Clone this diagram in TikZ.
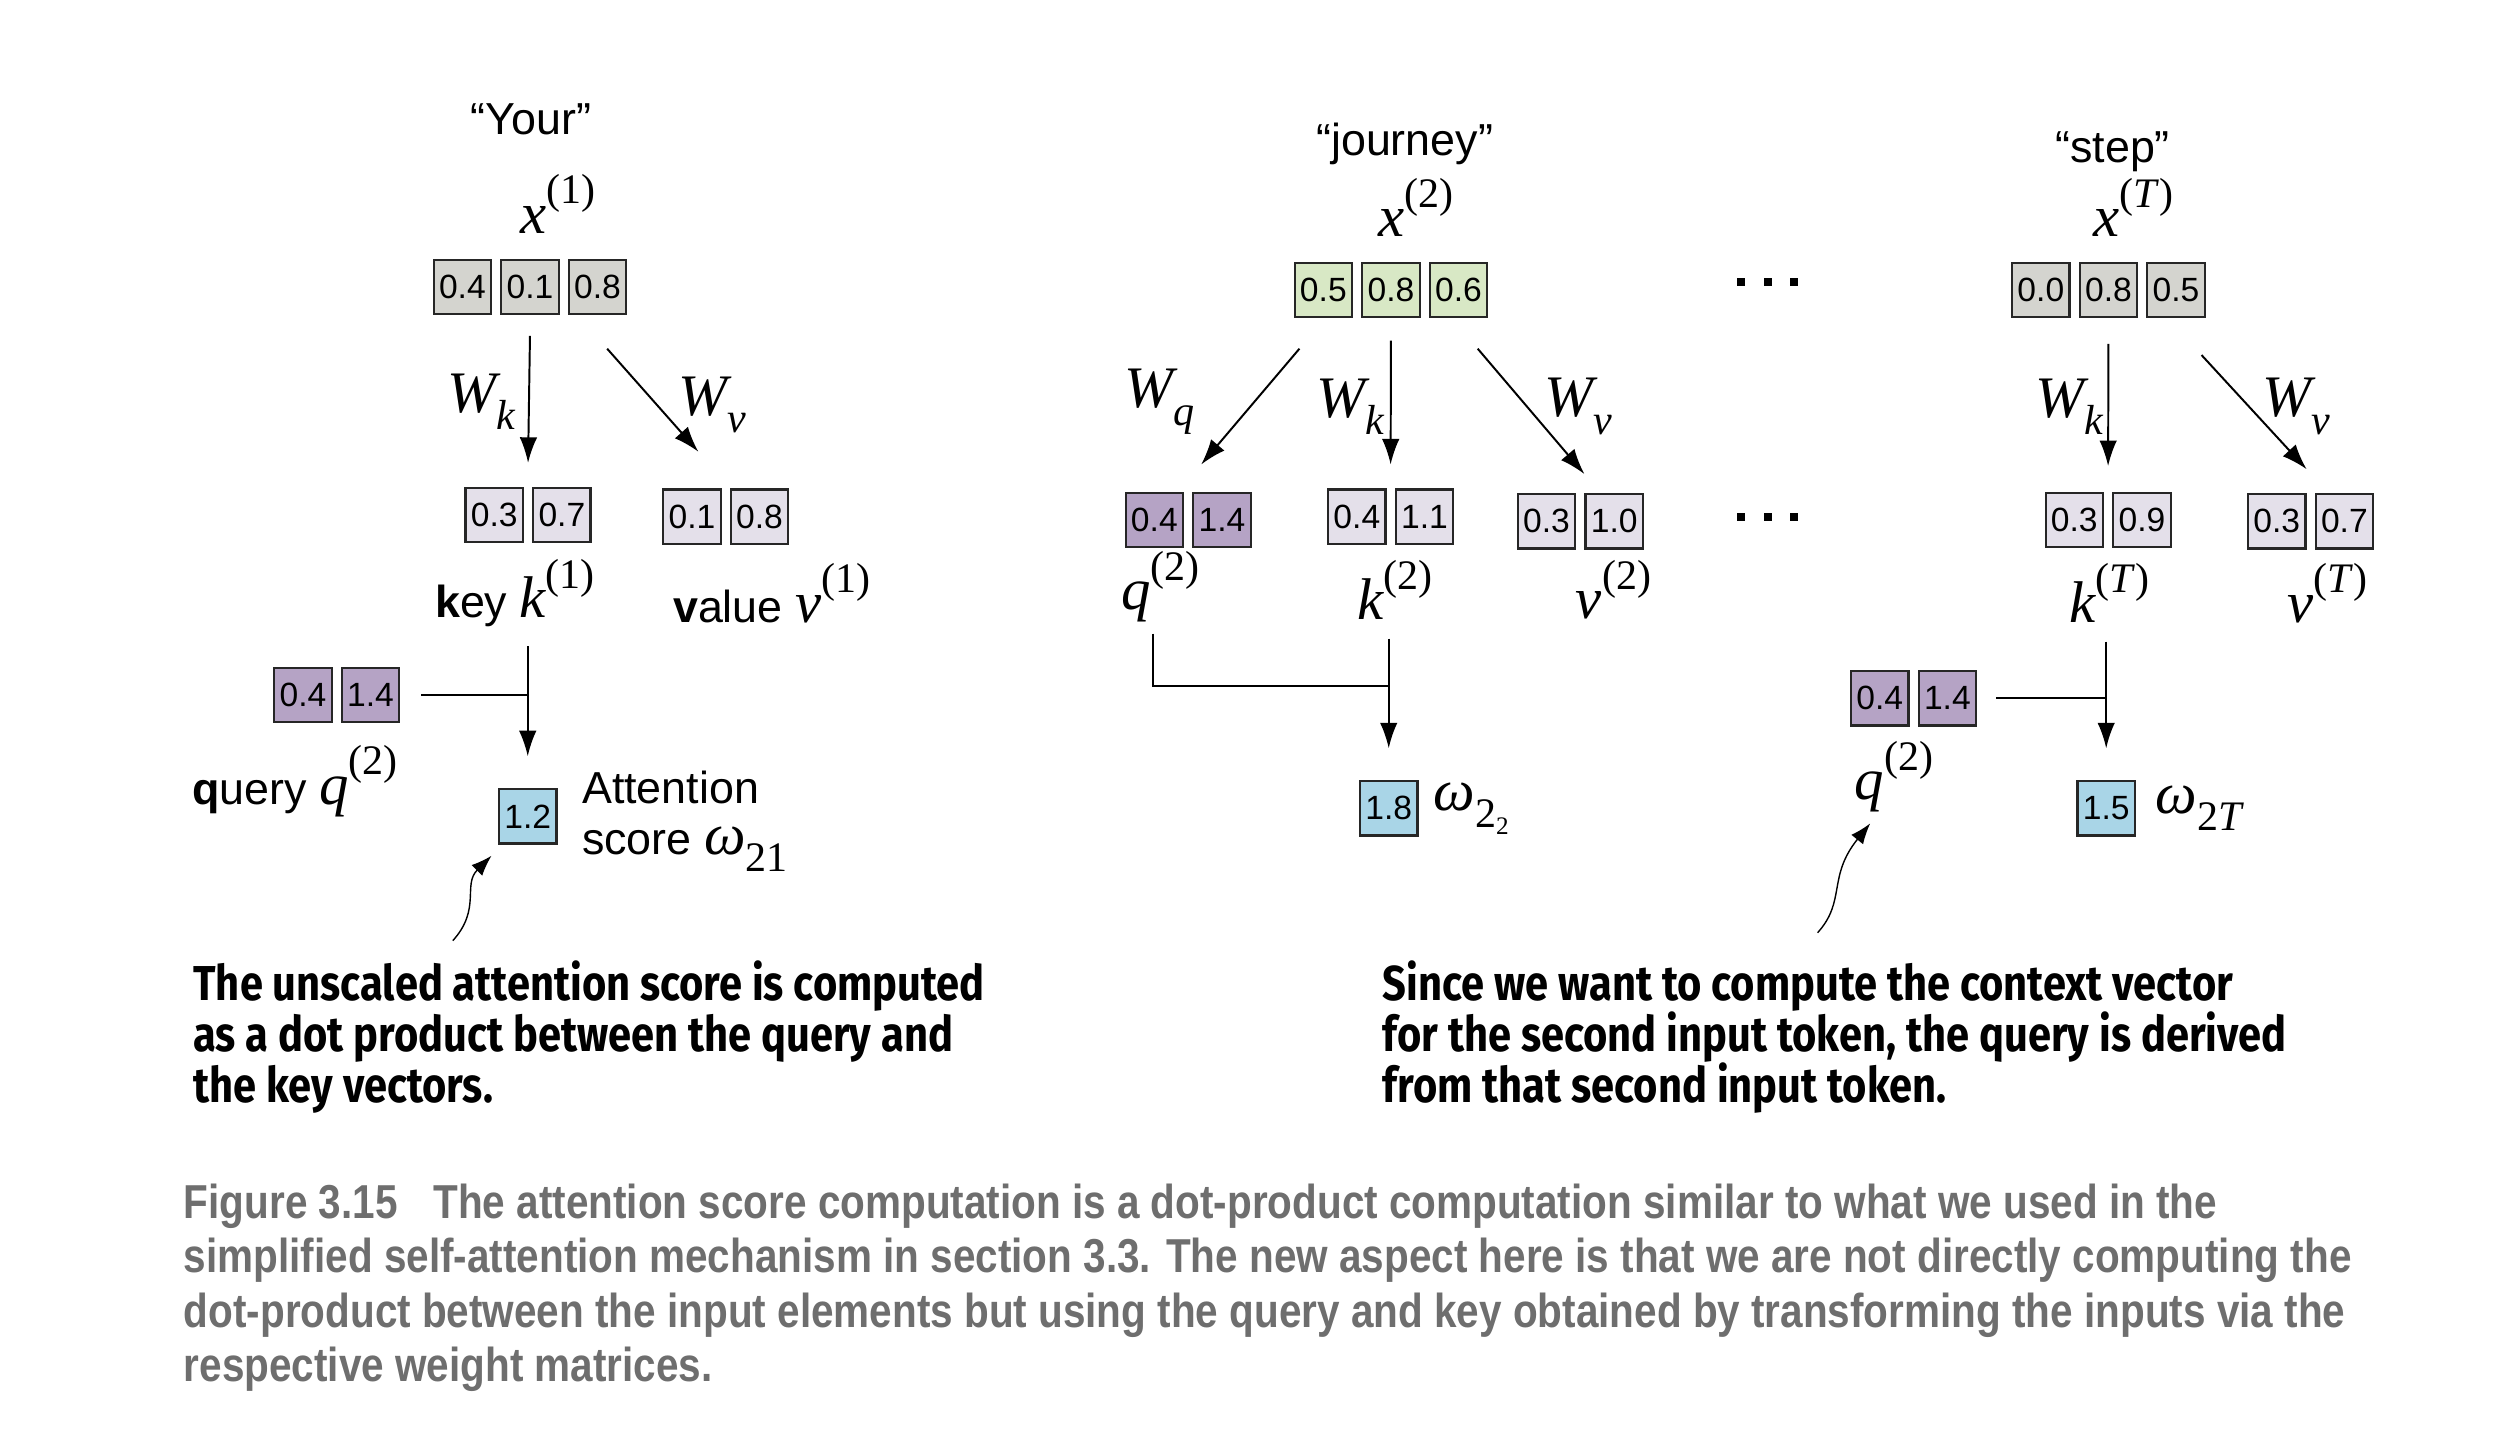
\documentclass[tikz,border=0pt]{standalone}
\usepackage{fontspec}
\setmainfont{Liberation Sans}
\newfontfamily\tms{Liberation Serif}
\newfontfamily\capfont[FakeStretch=0.85]{Liberation Sans}
\newfontfamily\notefont[FakeStretch=0.85]{Fira Sans}
\usetikzlibrary{arrows.meta, positioning}

\definecolor{cellgrey}{HTML}{D4D4CF}
\definecolor{celllilac}{HTML}{E4E0EA}
\definecolor{cellpurple}{HTML}{B5A3C5}
\definecolor{cellgreen}{HTML}{D8E8C5}
\definecolor{cellblue}{HTML}{A9D5E7}
\definecolor{captiongrey}{HTML}{6E6E6E}

\newcommand{\mi}[1]{{\tms\itshape #1}}
\newcommand{\supx}[1]{\raisebox{0.5em}{\tms\upshape\fontsize{15}{15}\selectfont #1}}
\newcommand{\subx}[1]{\raisebox{-0.3em}{\tms\upshape\fontsize{15}{15}\selectfont #1}}

\begin{document}
\begin{tikzpicture}[
x=0.02cm, y=-0.02cm,
cell/.style={
draw=black!85,
line width=0.8pt,
minimum width=0.72cm,
minimum height=0.68cm,
inner sep=0pt,
font=\fontsize{12}{12}\selectfont
},
greycell/.style={cell, fill=cellgrey},
lilaccell/.style={cell, fill=celllilac},
purplecell/.style={cell, fill=cellpurple},
greencell/.style={cell, fill=cellgreen},
bluecell/.style={cell, fill=cellblue},
label/.style={font=\fontsize{16}{18.2}\selectfont, inner sep=1pt},
sym/.style={font=\fontsize{21}{22}\selectfont\tms\itshape, inner sep=1pt},
dot/.style={fill=black, minimum size=0.1cm, inner sep=0pt},
note/.style={font=\notefont\bfseries\fontsize{17.5}{18.2}\selectfont, align=left, inner sep=0pt},
arrow/.style={-{Latex[length=3.2mm,width=2.2mm]}, line width=0.7pt},
curl/.style={-{Latex[length=2.6mm,width=1.9mm]}, line width=0.5pt},
link/.style={line width=0.7pt}
]
\useasboundingbox (0,0) rectangle (1568,898);

% token "Your"
\node[label] (your) at (333,75) {“Your”};
\node[sym] (x1) at (350,128) {x\supx{(1)}};
\node[greycell] (x1a) at (290,180) {0.4};
\node[greycell, right=1mm of x1a] (x1b) {0.1};
\node[greycell, right=1mm of x1b] (x1c) {0.8};

\node[lilaccell] (k1a) at (310,323) {0.3};
\node[lilaccell, right=1mm of k1a] (k1b) {0.7};
\node[lilaccell] (v1a) at (434,324) {0.1};
\node[lilaccell, right=1mm of v1a] (v1b) {0.8};

\node[sym] (wk1) at (302,252) {W\subx{\itshape k}};
\node[sym] (wv1) at (447,254) {W\subx{\itshape v}};

\node[label] (k1lab) at (323,372) {\textbf{k}ey {\fontsize{21}{21}\selectfont\mi{k}\supx{(1)}}};
\node[label] (v1lab) at (484,372) {\textbf{v}alue {\fontsize{21}{21}\selectfont\mi{v}\supx{(1)}}};

\node[purplecell] (q1a) at (190,436) {0.4};
\node[purplecell, right=1mm of q1a] (q1b) {1.4};
\node[label] (q1lab) at (185,490) {\textbf{q}uery {\fontsize{21}{21}\selectfont\mi{q}\supx{(2)}}};

\node[bluecell] (s1) at (331,512) {1.2};
\node[label, align=left, anchor=west] (att1) at (363,515) {Attention\\score {\fontsize{21}{21}\selectfont\mi{ω}\subx{21}}};

\draw[arrow] ([yshift=-0.26cm]x1b.south) -- ([xshift=0.05cm,yshift=0.3cm]k1a.north east);
\draw[arrow] ([xshift=0.12cm,yshift=-0.42cm]x1c.south) -- ([xshift=0.08cm,yshift=0.46cm]v1a.north);

\coordinate (j1) at (s1.north |- q1b.east);
\coordinate (t1) at (s1.north |- k1lab.south);
\draw[link] ([xshift=0.26cm]q1b.east) -- (j1);
\draw[arrow] ([yshift=-0.2cm]t1) -- ([yshift=0.4cm]s1.north);

% token "journey"
\node[label] (journey) at (881,90) {“journey”};
\node[sym] (x2) at (888,130) {x\supx{(2)}};
\node[greencell] (x2a) at (830,182) {0.5};
\node[greencell, right=1mm of x2a] (x2b) {0.8};
\node[greencell, right=1mm of x2b] (x2c) {0.6};

\node[purplecell] (q2a) at (724,326) {0.4};
\node[purplecell, right=1mm of q2a] (q2b) {1.4};
\node[lilaccell] (k2a) at (851,324) {0.4};
\node[lilaccell, right=1mm of k2a] (k2b) {1.1};
\node[lilaccell] (v2a) at (970,327) {0.3};
\node[lilaccell, right=1mm of v2a] (v2b) {1.0};

\node[sym] (wq2) at (727,252) {W\subx{\itshape q}};
\node[sym] (wk2) at (847,255) {W\subx{\itshape k}};
\node[sym] (wv2) at (990,255) {W\subx{\itshape v}};

\draw[arrow] ([xshift=-0.3cm,yshift=-0.38cm]x2a.south) -- ([xshift=-0.26cm,yshift=0.34cm]q2b.north);
\draw[arrow] ([yshift=-0.28cm]x2b.south) -- ([xshift=0.05cm,yshift=0.3cm]k2a.north east);
\draw[arrow] ([xshift=0.24cm,yshift=-0.38cm]x2c.south) -- ([xshift=0.1cm,yshift=0.24cm]v2a.north east);

\node[sym] (q2lab) at (728,368) {q\supx{(2)}};
\node[sym] (k2lab) at (875,370) {k\supx{(2)}};
\node[sym] (v2lab) at (1012,370) {v\supx{(2)}};

\node[bluecell] (s2) at (871,507) {1.8};
\node[sym, anchor=west] (w22) at (897,507) {ω\subx{2\raisebox{-0.15em}{\fontsize{9}{9}\selectfont 2}}};

\coordinate (j2) at (s2.north |- 0,430);
\coordinate (t2) at (s2.north |- k2lab.south);
\draw[link] ([xshift=-0.1cm,yshift=-0.1cm]q2lab.south) |- (j2);
\draw[arrow] ([yshift=-0.2cm]t2) -- ([yshift=0.4cm]s2.north);

% dots
\node[dot] (d1a) at (1092,177) {};
\node[dot, right=0.22cm of d1a] (d1b) {};
\node[dot, right=0.22cm of d1b] (d1c) {};
\node[dot] (d2a) at (1092,324) {};
\node[dot, right=0.22cm of d2a] (d2b) {};
\node[dot, right=0.22cm of d2b] (d2c) {};

% token "step"
\node[label] (stepw) at (1325,95) {“step”};
\node[sym] (xT) at (1338,130) {x\supx{(\itshape T\/\upshape)}};
\node[greycell] (xTa) at (1280,182) {0.0};
\node[greycell, right=1mm of xTa] (xTb) {0.8};
\node[greycell, right=1mm of xTb] (xTc) {0.5};

\node[lilaccell] (kTa) at (1301,326) {0.3};
\node[lilaccell, right=1mm of kTa] (kTb) {0.9};
\node[lilaccell] (vTa) at (1428,327) {0.3};
\node[lilaccell, right=1mm of vTa] (vTb) {0.7};

\node[sym] (wkT) at (1298,255) {W\subx{\itshape k}};
\node[sym] (wvT) at (1440,255) {W\subx{\itshape v}};

\draw[arrow] ([yshift=-0.32cm]xTb.south) -- ([xshift=0.05cm,yshift=0.32cm]kTa.north east);
\draw[arrow] ([xshift=0.32cm,yshift=-0.46cm]xTc.south) -- ([yshift=0.3cm]vTa.north east);

\node[sym] (kTlab) at (1323,372) {k\supx{(\itshape T\/\upshape)}};
\node[sym] (vTlab) at (1460,372) {v\supx{(\itshape T\/\upshape)}};

\node[purplecell] (qTa) at (1179,438) {0.4};
\node[purplecell, right=1mm of qTa] (qTb) {1.4};
\node[sym] (qTlab) at (1188,487) {q\supx{(2)}};

\node[bluecell] (sT) at (1321,507) {1.5};
\node[sym, anchor=west] (w2T) at (1350,507) {ω\subx{2\itshape T}};

\coordinate (j3) at (sT.north |- qTb.east);
\coordinate (t3) at (sT.north |- kTlab.south);
\draw[link] ([xshift=0.24cm]qTb.east) -- (j3);
\draw[arrow] ([yshift=-0.2cm]t3) -- ([yshift=0.4cm]sT.north);

% notes
\node[note, anchor=north west] (note1) at (121,602) {The unscaled attention score is computed\\as a dot product between the query and\\the key vectors.};
\node[note, anchor=north west] (note2) at (867,602) {Since we want to compute the context vector\\for the second input token, the query is derived\\from that second input token.};

\coordinate (c1) at (284,590);
\draw[curl] (c1) .. controls (302,570) and (290,555) .. ([xshift=-0.08cm,yshift=-0.14cm]s1.south west);
\coordinate (c2) at (1140,585);
\draw[curl] (c2) .. controls (1158,565) and (1146,550) .. ([xshift=-0.3cm,yshift=-0.1cm]qTlab.south);

% caption
\node[anchor=north west, align=left, inner sep=0pt, text=captiongrey,
font=\capfont\bfseries\fontsize{17}{19.5}\selectfont] (caption) at (115,742)
{Figure 3.15\hspace{0.45cm}The attention score computation is a dot-product computation similar to what we used in the\\
simplified self-attention mechanism in section 3.3. The new aspect here is that we are not directly computing the\\
dot-product between the input elements but using the query and key obtained by transforming the inputs via the\\
respective weight matrices.};

\end{tikzpicture}
\end{document}
